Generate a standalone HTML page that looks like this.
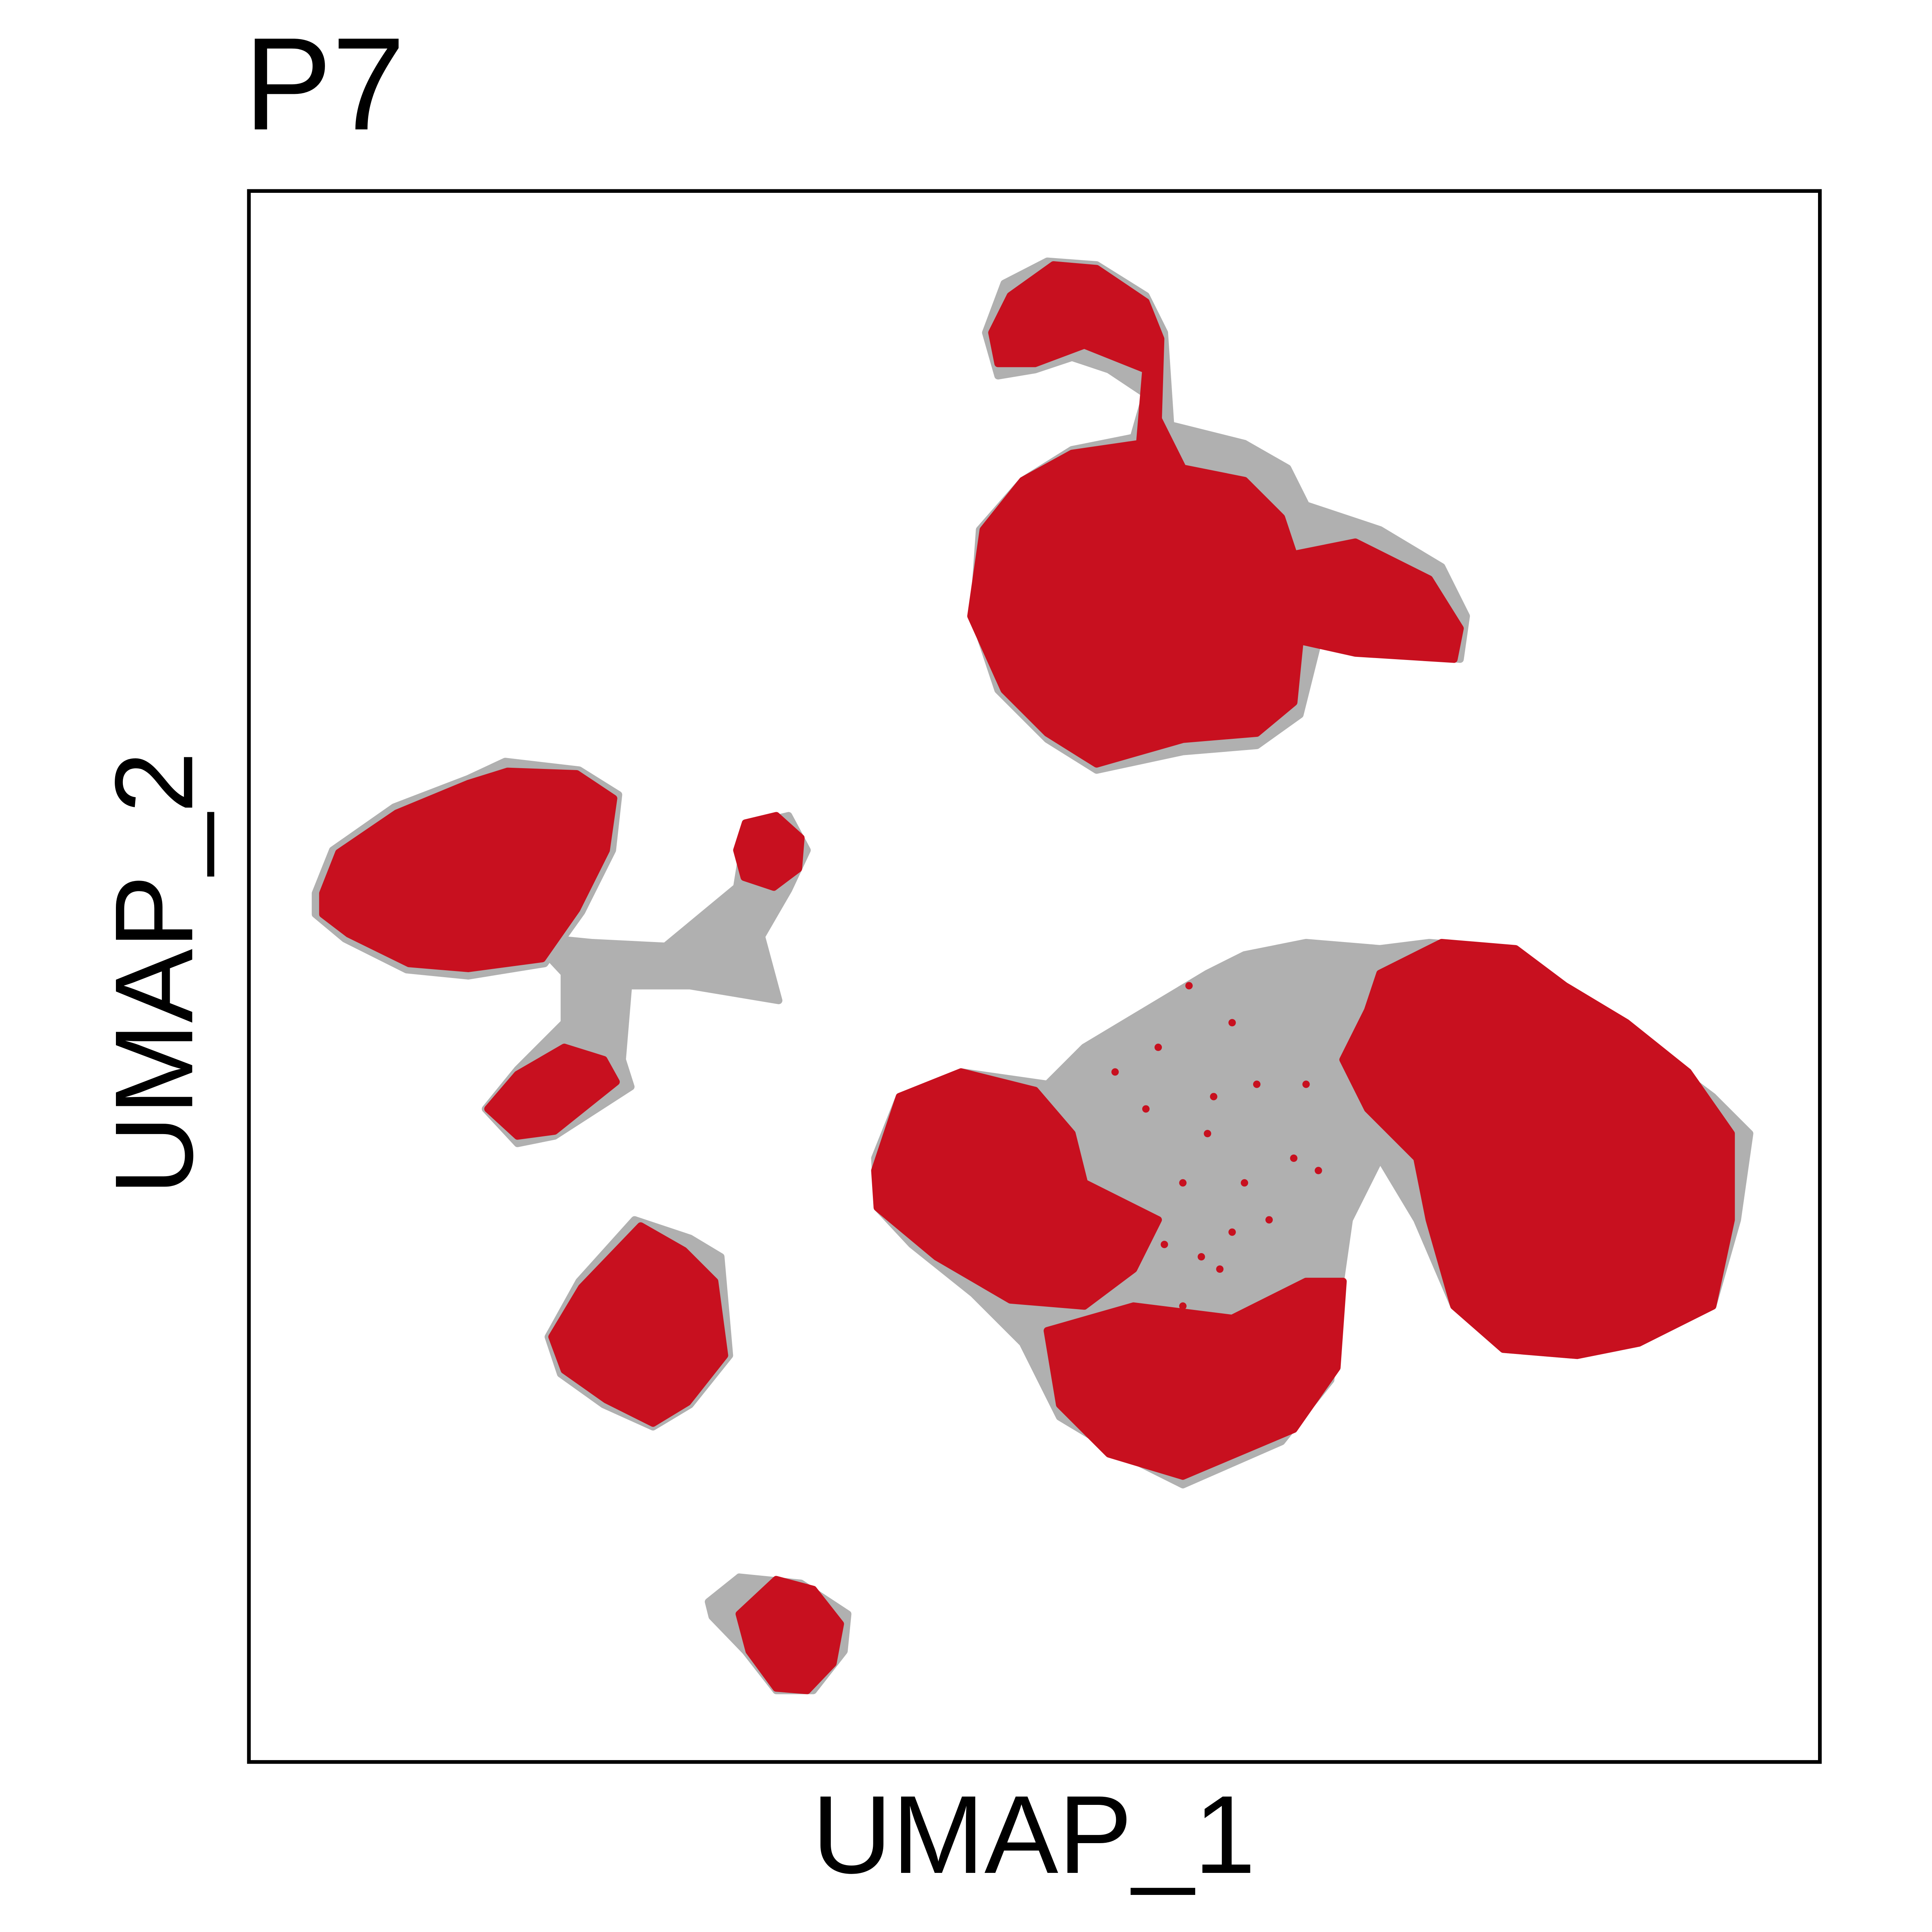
<!DOCTYPE html>
<html><head><meta charset="utf-8"><style>html,body{margin:0;padding:0;background:#fff;width:100vw;height:100vh;overflow:hidden}svg{display:block;width:100vw;height:100vh}</style></head>
<body>
<svg id="chart" viewBox="0 0 1568 1568" preserveAspectRatio="none" xmlns="http://www.w3.org/2000/svg">
<rect x="0" y="0" width="1568" height="1568" fill="#fff"/>
<text x="198" y="105" font-family="Liberation Sans, sans-serif" font-size="107" fill="#000">P7</text>
<g id="marks"></g>
<rect x="202" y="155" width="1275" height="1275" fill="none" stroke="#000" stroke-width="3"/>
<text x="839" y="1520" text-anchor="middle" font-family="Liberation Sans, sans-serif" font-size="90" fill="#000">UMAP_1</text>
<text transform="translate(156,790) rotate(-90)" text-anchor="middle" font-family="Liberation Sans, sans-serif" font-size="90" fill="#000">UMAP_2</text>
</svg>
<script>
const greyTop=[[800,270],[815,230],[850,212],[890,215],[930,240],[945,270],[950,345],[1010,360],[1045,380],[1060,410],[1120,430],[1170,460],[1190,500],[1185,535],[1130,530],[1070,520],[1055,580],[1020,605],[960,610],[890,625],[850,600],[810,560],[790,500],[795,430],[830,390],[870,365],[920,355],[930,320],[900,300],[870,290],[840,300],[810,305]];
const redTop=[[805,270],[820,240],[855,215],[890,218],[930,245],[942,275],[940,340],[960,380],[1010,390],[1040,420],[1050,450],[1100,440],[1160,470],[1185,510],[1180,535],[1100,530],[1055,520],[1050,570],[1020,595],[960,600],[890,620],[850,595],[815,560],[788,500],[798,430],[830,390],[870,368],[925,360],[930,300],[880,280],[840,295],[810,295]];
const greyLeft=[[256,725],[270,690],[320,655],[380,632],[410,618],[470,625],[502,645],[497,690],[472,740],[442,782],[380,792],[330,787],[280,762],[256,742]];
const redLeft=[[262,725],[275,692],[322,660],[380,636],[412,626],[468,628],[498,648],[492,690],[468,738],[440,778],[380,786],[332,782],[283,758],[262,742]];
const greyBranch=[[430,760],[480,765],[540,768],[598,720],[606,670],[640,662],[655,690],[640,722],[618,760],[632,812],[560,800],[510,800],[505,860],[512,882],[450,922],[420,928],[394,900],[420,868],[458,830],[458,790]];
const redBranchTop=[[598,690],[605,668],[630,662],[650,680],[648,705],[628,720],[604,712]];
const redBranchLow=[[396,900],[420,872],[458,850],[490,860],[500,878],[450,918],[420,922]];
const greySmall=[[445,1085],[470,1040],[515,990],[560,1005],[585,1020],[592,1100],[560,1140],[530,1158],[490,1140],[455,1115]];
const redSmall=[[448,1085],[472,1045],[520,995],[555,1015],[580,1040],[588,1100],[558,1138],[530,1155],[492,1136],[458,1112]];
const greyBottom=[[575,1300],[600,1280],[650,1285],[688,1310],[685,1340],[660,1372],[630,1372],[605,1340],[578,1312]];
const redBottom=[[600,1310],[630,1282],[660,1290],[682,1318],[676,1350],[655,1372],[630,1370],[608,1340]];
const greyMain=[[710,940],[730,890],[780,870],[850,880],[880,850],[930,820],[980,790],[1010,775],[1060,765],[1120,770],[1160,765],[1220,770],[1270,800],[1310,830],[1350,860],[1390,890],[1420,920],[1410,990],[1390,1060],[1330,1090],[1280,1100],[1220,1095],[1180,1060],[1150,990],[1120,940],[1095,990],[1085,1060],[1080,1120],[1040,1170],[960,1205],[910,1180],[860,1150],[830,1090],[790,1050],[740,1010],[712,980]];
const redMainLeft=[[710,950],[730,890],[780,870],[840,885],[870,920],[880,960],[940,990],[920,1030],[880,1060],[820,1055],[760,1020],[712,980]];
const redMainBottom=[[850,1080],[920,1060],[1000,1070],[1060,1040],[1090,1040],[1085,1110],[1050,1160],[960,1198],[900,1180],[860,1140]];
const redMainRight=[[1120,790],[1170,765],[1230,770],[1270,800],[1320,830],[1370,870],[1405,920],[1405,990],[1390,1060],[1330,1090],[1280,1100],[1220,1095],[1180,1060],[1160,990],[1150,940],[1110,900],[1090,860],[1110,820]];
const dotsX=[965,940,1000,1020,980,960,1050,1000,930,990,1030,960,1060,905,975,1010,945,1045,985,1070];
const dotsY=[800,850,830,880,920,960,940,1000,900,1030,990,1060,880,870,1020,960,1010,1050,890,950];

const xDomain=[202,1477], yDomain=[1430,155];
const X0=202,X1=1477,Y0=1430,Y1=155;
function sx(v){return X0+(v-xDomain[0])/(xDomain[1]-xDomain[0])*(X1-X0);}
function sy(v){return Y0+(v-yDomain[0])/(yDomain[1]-yDomain[0])*(Y1-Y0);}
const g=document.getElementById('marks');
const NS='http://www.w3.org/2000/svg';
function blob(pts,color,name){
  const p=document.createElementNS(NS,'polygon');
  p.setAttribute('points',pts.map(q=>sx(q[0])+','+sy(q[1])).join(' '));
  p.setAttribute('fill',color);p.setAttribute('stroke',color);
  p.setAttribute('stroke-width','6');p.setAttribute('stroke-linejoin','round');
  
  
  g.appendChild(p);
}
const GREY='#b0b0b0', RED='#c8101f';
blob(greyTop,GREY,'cluster-top-background');
blob(greyLeft,GREY,'cluster-left-background');
blob(greyBranch,GREY,'cluster-branch-background');
blob(greySmall,GREY,'cluster-small-background');
blob(greyBottom,GREY,'cluster-bottom-background');
blob(greyMain,GREY,'cluster-main-background');
blob(redTop,RED,'cluster-top-highlight');
blob(redLeft,RED,'cluster-left-highlight');
blob(redBranchTop,RED,'cluster-branch-top-highlight');
blob(redBranchLow,RED,'cluster-branch-low-highlight');
blob(redSmall,RED,'cluster-small-highlight');
blob(redBottom,RED,'cluster-bottom-highlight');
blob(redMainLeft,RED,'cluster-main-left-highlight');
blob(redMainBottom,RED,'cluster-main-bottom-highlight');
blob(redMainRight,RED,'cluster-main-right-highlight');
for(let i=0;i<dotsX.length;i++){
  const c=document.createElementNS(NS,'circle');
  c.setAttribute('cx',sx(dotsX[i]));c.setAttribute('cy',sy(dotsY[i]));
  c.setAttribute('r','3');c.setAttribute('fill',RED);
  
  
  g.appendChild(c);
}
</script>
</body></html>
